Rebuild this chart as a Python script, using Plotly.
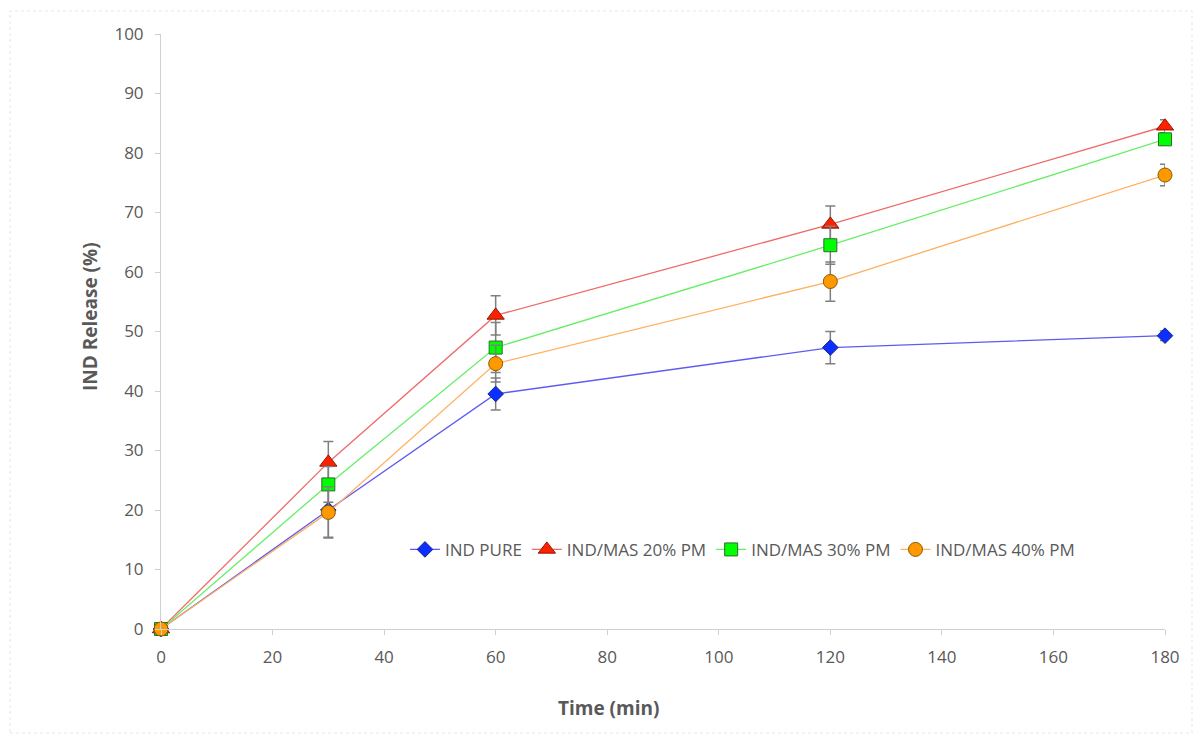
import plotly.graph_objects as go

time_min = [0, 30, 60, 120, 180]
ind_pure = [0, 20.0, 39.5, 47.3, 49.3]
ind_pure_err = [0.3, 4.6, 2.7, 2.7, 0.8]
mas20 = [0, 28.0, 52.7, 68.0, 84.5]
mas20_err = [0.3, 3.5, 3.3, 3.1, 1.1]
mas30 = [0, 24.3, 47.3, 64.5, 82.3]
mas30_err = [0.3, 3.0, 4.2, 3.2, 1.0]
mas40 = [0, 19.6, 44.6, 58.4, 76.3]
mas40_err = [0.3, 4.3, 3.1, 3.3, 1.8]

series = [
    ("IND PURE", ind_pure, ind_pure_err, "#5c5cf0", "diamond", "#0a2fff", "#1a237e", 12),
    ("IND/MAS 20% PM", mas20, mas20_err, "#f06a6a", "triangle-up", "#ff2000", "#8b1a00", 15),
    ("IND/MAS 30% PM", mas30, mas30_err, "#66ee66", "square", "#00ff00", "#2e6b2e", 13),
    ("IND/MAS 40% PM", mas40, mas40_err, "#ffb060", "circle", "#ff9900", "#8a5a00", 14),
]

fig = go.Figure()
for name, ys, err, lc, sym, fc, oc, sz in series:
    fig.add_trace(go.Scatter(
        x=time_min, y=ys, name=name, mode="lines+markers", cliponaxis=False,
        line=dict(color=lc, width=1.3),
        marker=dict(symbol=sym, color=fc, size=sz, line=dict(color=oc, width=1)),
        error_y=dict(type="data", array=err, visible=True, color="#7f7f7f",
                     thickness=1.5, width=5),
    ))

FONT = "Open Sans, Liberation Sans, sans-serif"
axis_common = dict(
    showgrid=False, zeroline=False, showline=True, linecolor="#d0d0d0", linewidth=1,
    ticks="outside", tickcolor="#d0d0d0", ticklen=5,
    tickfont=dict(family=FONT, size=17, color="#595959"),
)

fig.update_layout(
    width=1198, height=735,
    margin=dict(l=161, r=33, t=34, b=106),
    paper_bgcolor="white", plot_bgcolor="white",
    xaxis=dict(range=[0, 180], tickmode="linear", tick0=0, dtick=20,
               ticklabelstandoff=8, **axis_common),
    yaxis=dict(range=[0, 100], tickmode="linear", tick0=0, dtick=10,
               ticklabelstandoff=8, **axis_common),
    legend=dict(orientation="h", x=0.243, y=0.133, xanchor="left", yanchor="middle",
                bgcolor="rgba(0,0,0,0)",
                font=dict(family=FONT, size=17, color="#595959"),
                tracegroupgap=0),
    showlegend=True,
    annotations=[
        dict(text="<b>Time (min)</b>", xref="paper", yref="paper",
             x=(608 - 161) / 1004, y=-(708 - 629) / 595, showarrow=False,
             xanchor="center", yanchor="middle",
             font=dict(family=FONT, size=19, color="#595959")),
        dict(text="<b>IND Release (%)</b>", xref="paper", yref="paper",
             x=-(161 - 90) / 1004, y=(629 - 317) / 595, showarrow=False, textangle=-90,
             xanchor="center", yanchor="middle",
             font=dict(family=FONT, size=19, color="#595959")),
    ],
    shapes=[
        dict(type="rect", xref="paper", yref="paper",
             x0=(10 - 161) / 1004, x1=(1192 - 161) / 1004,
             y0=-(733 - 629) / 595, y1=(629 - 11) / 595,
             line=dict(color="#e6e6e6", width=1, dash="dot")),
    ],
)

fig.write_html("out.html")
